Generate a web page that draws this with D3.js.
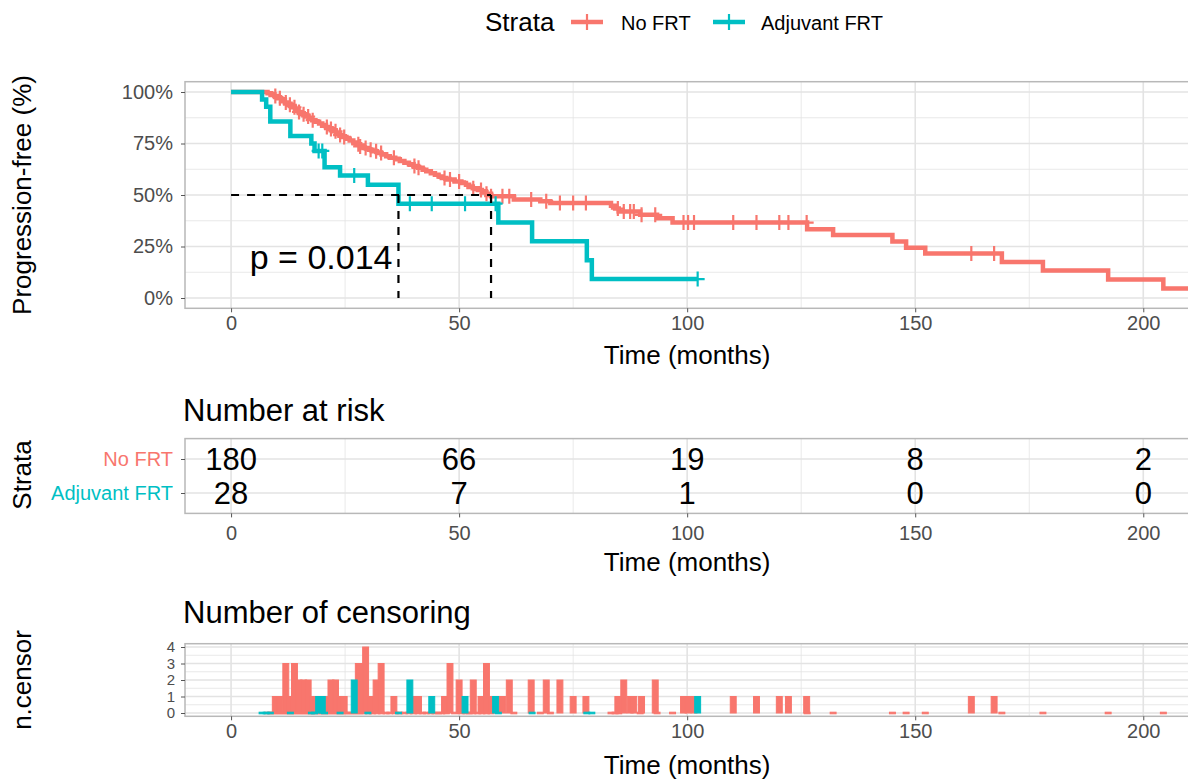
<!DOCTYPE html>
<html>
<head>
<meta charset="utf-8">
<script src="https://cdn.jsdelivr.net/npm/d3@7"></script>
<style>
body { margin: 0; background: #fff; }
text { font-family: "Liberation Sans", Arial, sans-serif; }
</style>
</head>
<body>
<script>
// chart data
let timeTicks = [0, 50, 100, 150, 200];
let timeMinor = [25, 75, 125, 175];
let survTicks = [0, 25, 50, 75, 100];
let survMinor = [12.5, 37.5, 62.5, 87.5];
let censorTicks = [0, 1, 2, 3, 4];
let censorMinor = [0.5, 1.5, 2.5, 3.5];

let strata = ["No FRT", "Adjuvant FRT"];
let strataColors = ["#F8766D", "#00BFC4"];

// [time (months), progression-free %]
let noFrtSteps = [[0,100],[8.0,99.4],[8.8,98.9],[9.5,98.0],[10.3,97.0],[11.0,96.0],[11.8,94.9],[12.5,93.8],
  [13.3,92.6],[14.0,91.5],[14.8,90.3],[15.5,89.2],[16.3,88.1],[17.0,87.2],[17.8,86.3],[18.5,85.5],
  [19.3,84.7],[20.0,84.0],[20.8,83.0],[21.5,82.0],[22.3,80.9],[23.0,80.0],[23.8,79.1],[24.5,78.2],
  [25.3,77.3],[26.0,76.4],[26.8,75.5],[27.5,74.6],[28.3,73.6],[29.0,72.8],[30.2,72.0],[31.0,71.2],
  [32.0,70.4],[33.0,69.6],[34.0,68.8],[34.8,68.1],[36.0,67.3],[37.0,66.5],[38.0,65.6],[39.0,64.9],
  [40.0,64.1],[41.0,63.2],[42.0,62.3],[42.8,61.5],[43.8,60.6],[44.7,59.8],[45.5,59.0],[46.2,58.3],
  [47.2,57.5],[49.0,56.6],[50.5,55.8],[51.5,55.0],[52.2,54.1],[53.0,53.3],[54.1,52.4],[55.0,51.5],
  [56.0,50.6],[57.0,49.4],[62.0,47.8],[67.8,47.0],[70.0,46.1],[83.3,44.8],[84.2,43.4],[85.0,42.0],
  [89.7,40.4],[93.4,38.7],[96.8,36.6],[126.3,33.4],[132.0,30.6],[145.0,27.4],[148.0,24.4],[152.2,21.6],
  [169.0,17.5],[178.0,13.3],[192.3,9.0],[204.4,4.6]];
let noFrtEnd = 215;

let adjSteps = [[0,100],[6.8,96.4],[7.7,92.9],[8.6,85.7],[13.0,78.6],[17.6,75.0],[18.3,71.4],[20.5,63.5],
  [23.9,59.5],[30.0,55.0],[36.7,45.8],[58.6,36.6],[66.0,27.5],[78.0,18.3],[79.1,9.2]];
let adjEnd = 102.3;

// [time, number censored]
let noFrtCensor = [[9.7,1],[10.7,1],[12.0,3],[12.9,1],[13.9,3],[14.9,2],[15.9,2],[16.9,2],[17.9,1],
  [21.0,1],[21.9,2],[22.9,2],[23.9,1],[24.8,1],[27.9,3],[28.3,3],[29.5,4],[30.6,1],[31.8,2],[32.9,3],
  [35.7,1],[40.2,1],[41.1,1],[46.8,1],[48.0,3],[50.0,2],[53.1,2],[54.8,1],[56.0,3],[57.0,1],[59.5,1],
  [61.0,2],[65.8,2],[69.1,2],[72.1,2],[75.0,1],[77.8,1],[84.8,1],[86.1,2],[87.5,1],[88.3,1],[90.0,1],
  [93.0,2],[99.2,1],[100.2,1],[101.5,1],[110.1,1],[115.2,1],[120.2,1],[122.2,1],[126.2,1],[162.3,1],[167.3,1]];
let adjCensor = [[19.2,1],[20.0,1],[27.0,2],[39.2,2],[44.0,1],[51.3,1],[58.0,1],[102.3,1]];

let noFrtRisk = [180, 66, 19, 8, 2];
let adjRisk = [28, 7, 1, 0, 0];

let medians = [57.0, 36.7];
let pLabel = "p = 0.014";

let series = [
  {name: strata[0], color: strataColors[0], steps: noFrtSteps, end: noFrtEnd, censor: noFrtCensor, risk: noFrtRisk},
  {name: strata[1], color: strataColors[1], steps: adjSteps, end: adjEnd, censor: adjCensor, risk: adjRisk}
];

let W = 1188, H = 780;
let gridCol = "#e3e3e3", borderCol = "#b8b8b8", tickCol = "#555", labCol = "#4d4d4d";

let svg = d3.select("body").append("svg")
  .attr("width", W)
  .attr("height", H);

let x = d3.scaleLinear().domain([-10.1, 212]).range([185, 1198]);

let kmTop = 81.7, kmBottom = 308.3;
let yKM = d3.scaleLinear().domain([-5, 105]).range([kmBottom, kmTop]);
let riskTop = 438.6, riskBottom = 513.4;
let yRisk = d3.scalePoint().domain(strata).range([riskTop, riskBottom]).padding(0.6);
let cenTop = 643.7, cenBottom = 716.3;
let yCen = d3.scaleLinear().domain([-0.2, 4.2]).range([cenBottom, cenTop]);

function panelFrame(top, bottom, yMajor, yMinor) {
  let g = svg.append("g");
  g.selectAll(".vminor").data(timeMinor).enter().append("line")
    .attr("x1", d => x(d)).attr("x2", d => x(d))
    .attr("y1", top).attr("y2", bottom)
    .attr("stroke", gridCol).attr("stroke-width", 0.8);
  g.selectAll(".hminor").data(yMinor).enter().append("line")
    .attr("x1", x.range()[0]).attr("x2", x.range()[1])
    .attr("y1", d => d).attr("y2", d => d)
    .attr("stroke", gridCol).attr("stroke-width", 0.8);
  g.selectAll(".vmajor").data(timeTicks).enter().append("line")
    .attr("x1", d => x(d)).attr("x2", d => x(d))
    .attr("y1", top).attr("y2", bottom)
    .attr("stroke", gridCol).attr("stroke-width", 1.6);
  g.selectAll(".hmajor").data(yMajor).enter().append("line")
    .attr("x1", x.range()[0]).attr("x2", x.range()[1])
    .attr("y1", d => d).attr("y2", d => d)
    .attr("stroke", gridCol).attr("stroke-width", 1.6);
  return g;
}

function borderFrame(top, bottom) {
  svg.append("rect")
    .attr("x", x.range()[0]).attr("y", top)
    .attr("width", x.range()[1] - x.range()[0]).attr("height", bottom - top)
    .attr("fill", "none").attr("stroke", borderCol).attr("stroke-width", 1.5);
}

function xAxis(bottom, pad, titleY) {
  let ax = svg.append("g")
    .attr("transform", "translate(0," + bottom + ")")
    .call(d3.axisBottom(x).tickValues(timeTicks).tickSize(4).tickPadding(pad));
  ax.select(".domain").remove();
  ax.selectAll("line").attr("stroke", tickCol);
  ax.selectAll("text").attr("font-size", 20).attr("fill", labCol)
    .style("font-family", '"Liberation Sans", Arial, sans-serif');
  svg.append("text")
    .attr("x", (x(0) + x(200)) / 2).attr("y", titleY)
    .attr("text-anchor", "middle").attr("font-size", 26)
    .text("Time (months)");
}

function yTitle(label, cy) {
  svg.append("text")
    .attr("transform", "translate(31," + cy + ") rotate(-90)")
    .attr("text-anchor", "middle").attr("font-size", 26)
    .text(label);
}

// legend
svg.append("text").attr("x", 485).attr("y", 31).attr("font-size", 26).text("Strata");
let legendX = [587, 729], legendTextX = [621, 761];
series.forEach((s, i) => {
  svg.append("line").attr("x1", legendX[i] - 16).attr("x2", legendX[i] + 16)
    .attr("y1", 22).attr("y2", 22).attr("stroke", s.color).attr("stroke-width", 4.5);
  svg.append("line").attr("x1", legendX[i]).attr("x2", legendX[i])
    .attr("y1", 14).attr("y2", 30).attr("stroke", s.color).attr("stroke-width", 2.2);
  svg.append("text").attr("x", legendTextX[i]).attr("y", 30).attr("font-size", 20).text(s.name);
});

// ---- survival panel
panelFrame(kmTop, kmBottom, survTicks.map(yKM), survMinor.map(yKM));

svg.append("defs").append("clipPath").attr("id", "kmclip")
  .append("rect").attr("x", x.range()[0]).attr("y", kmTop)
  .attr("width", x.range()[1] - x.range()[0]).attr("height", kmBottom - kmTop);

let kmG = svg.append("g").attr("clip-path", "url(#kmclip)");

let stepLine = d3.line()
  .x(d => x(d[0]))
  .y(d => yKM(d[1]))
  .curve(d3.curveStepAfter);

function survAt(steps, t) {
  let v = steps[0][1];
  steps.forEach(s => { if (s[0] <= t) v = s[1]; });
  return v;
}

series.forEach(s => {
  let pts = s.steps.concat([[s.end, s.steps[s.steps.length - 1][1]]]);
  kmG.append("path")
    .datum(pts)
    .attr("d", stepLine)
    .attr("fill", "none")
    .attr("stroke", s.color)
    .attr("stroke-width", 4.5);
});

series.forEach(s => {
  kmG.selectAll(null).data(s.censor).enter().append("path")
    .attr("d", d => {
      let cx = x(d[0]), cy = yKM(survAt(s.steps, d[0]));
      return "M" + (cx - 7) + "," + cy + "H" + (cx + 7) + "M" + cx + "," + (cy - 7.5) + "V" + (cy + 7.5);
    })
    .attr("stroke", s.color)
    .attr("stroke-width", 2.2)
    .attr("fill", "none");
});

// median lines
kmG.append("line")
  .attr("x1", x(0)).attr("x2", x(d3.max(medians)))
  .attr("y1", yKM(50)).attr("y2", yKM(50))
  .attr("stroke", "#000").attr("stroke-width", 2.2).attr("stroke-dasharray", "8,8");
kmG.selectAll(".med").data(medians).enter().append("line")
  .attr("x1", d => x(d)).attr("x2", d => x(d))
  .attr("y1", yKM(50)).attr("y2", yKM(0))
  .attr("stroke", "#000").attr("stroke-width", 2.2).attr("stroke-dasharray", "8,8");

kmG.append("text")
  .attr("x", x(4.1)).attr("y", yKM(20))
  .attr("dominant-baseline", "central")
  .attr("font-size", 34)
  .text(pLabel);

borderFrame(kmTop, kmBottom);

let yAx = svg.append("g")
  .attr("transform", "translate(" + x.range()[0] + ",0)")
  .call(d3.axisLeft(yKM).tickValues(survTicks).tickFormat(d => d + "%").tickSize(4).tickPadding(8));
yAx.select(".domain").remove();
yAx.selectAll("line").attr("stroke", tickCol);
yAx.selectAll("text").attr("font-size", 20).attr("fill", labCol)
  .style("font-family", '"Liberation Sans", Arial, sans-serif');

xAxis(kmBottom, 3.5, 364);
yTitle("Progression-free (%)", 195);

// ---- risk table
svg.append("text").attr("x", 183).attr("y", 421).attr("font-size", 31).text("Number at risk");
panelFrame(riskTop, riskBottom, strata.map(yRisk), []);
series.forEach(s => {
  svg.selectAll(null).data(s.risk).enter().append("text")
    .attr("x", (d, i) => x(timeTicks[i]))
    .attr("y", yRisk(s.name))
    .attr("text-anchor", "middle")
    .attr("dominant-baseline", "central")
    .attr("font-size", 31)
    .text(d => d);
});
borderFrame(riskTop, riskBottom);

let rAx = svg.append("g")
  .attr("transform", "translate(" + x.range()[0] + ",0)")
  .call(d3.axisLeft(yRisk).tickSize(4).tickPadding(8));
rAx.select(".domain").remove();
rAx.selectAll("line").attr("stroke", tickCol);
rAx.selectAll("text").attr("font-size", 20)
  .attr("fill", (d, i) => strataColors[i])
  .style("font-family", '"Liberation Sans", Arial, sans-serif');

xAxis(riskBottom, 8, 571);
yTitle("Strata", 475);

// ---- censoring plot
svg.append("text").attr("x", 183).attr("y", 623).attr("font-size", 31).text("Number of censoring");
panelFrame(cenTop, cenBottom, censorTicks.map(yCen), censorMinor.map(yCen));

let barHalf = 0.65;
series.forEach(s => {
  // event times show up as flat (zero) bars
  let zeroTimes = s.steps.slice(1).map(d => [d[0], 0]);
  let bars = zeroTimes.concat(s.censor);
  svg.selectAll(null).data(bars).enter().append("rect")
    .attr("x", d => x(d[0] - barHalf))
    .attr("width", d => x(d[0] + barHalf) - x(d[0] - barHalf))
    .attr("y", d => yCen(d[1]) - (d[1] === 0 ? 0.8 : 0))
    .attr("height", d => Math.max(yCen(0) - yCen(d[1]), 0) + (d[1] === 0 ? 1.6 : 0))
    .attr("fill", s.color)
    .attr("stroke", s.color)
    .attr("stroke-width", 1);
});
borderFrame(cenTop, cenBottom);

let cAx = svg.append("g")
  .attr("transform", "translate(" + x.range()[0] + ",0)")
  .call(d3.axisLeft(yCen).tickValues(censorTicks).tickFormat(d3.format("d")).tickSize(4).tickPadding(6));
cAx.select(".domain").remove();
cAx.selectAll("line").attr("stroke", tickCol);
cAx.selectAll("text").attr("font-size", 15).attr("fill", labCol)
  .style("font-family", '"Liberation Sans", Arial, sans-serif');

xAxis(cenBottom, 3.5, 774);
yTitle("n.censor", 680);
</script>
</body>
</html>
